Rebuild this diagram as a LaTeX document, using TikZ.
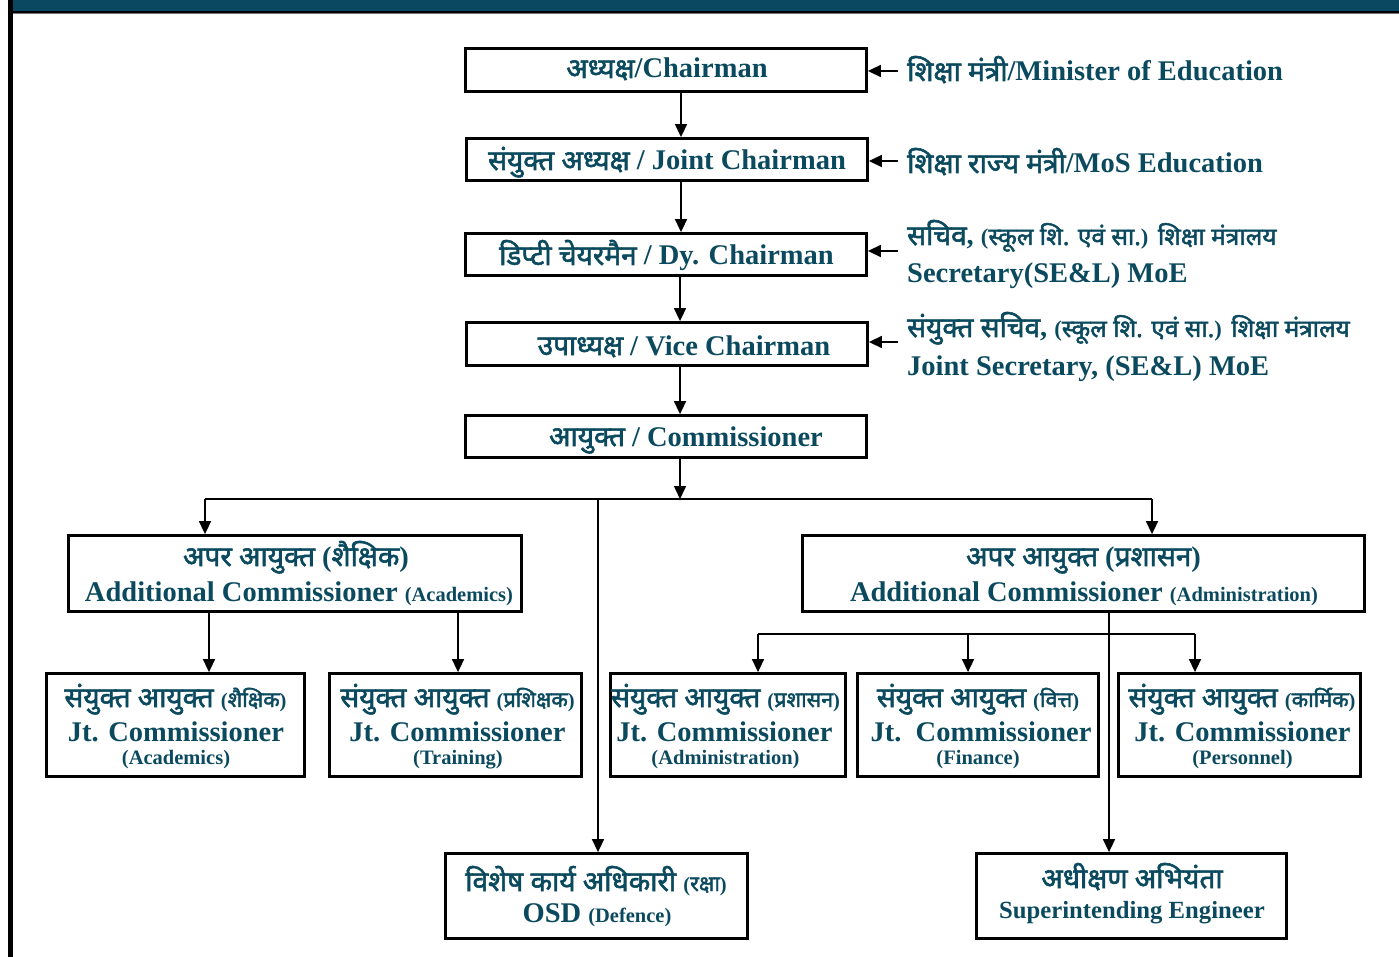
\documentclass[tikz,border=0pt]{standalone}
\usepackage{fontspec}
\setmainfont{Liberation Serif}
\newfontfamily\devfont[Script=Devanagari,FakeBold=2,BoldFont={*},BoldFeatures={FakeBold=2}]{Noto Sans}
\usetikzlibrary{arrows.meta,calc}
\definecolor{txt}{HTML}{0B4A5E}
\definecolor{band}{HTML}{0A4760}
\newcommand\fsL{\fontsize{28.5}{30}\selectfont}
\newcommand\fsS{\fontsize{20.5}{22}\selectfont}
\newcommand\fsM{\fontsize{24.7}{26}\selectfont}
\newcommand\fsT{\fontsize{22.5}{24}\selectfont}
\newcommand\DVL[1]{{\devfont\fontsize{28}{29}\selectfont #1}}
\newcommand\DVS[1]{{\devfont\fontsize{21.5}{22}\selectfont #1}}
\newcommand\DVT[1]{{\devfont\fontsize{24.5}{25}\selectfont #1}}
\tikzset{
  box/.style={draw=black, line width=2.8pt, inner sep=0pt},
  conn/.style={line width=1.6pt, draw=black},
  arr/.style={conn, -{Triangle[width=12pt,length=13pt]}},
  lbl/.style={text=txt, inner sep=0pt, anchor=base, font=\fsL\bfseries},
  lblw/.style={lbl, anchor=base west},
}
\begin{document}
\begin{tikzpicture}[x=1pt,y=-1pt]
\useasboundingbox (0,0) rectangle (1399,957);
% frame
\fill[band] (8,0) rectangle (1399,11.5);
\fill[black] (8,11) rectangle (1399,13.5);
\fill[black!55] (13,13.5) rectangle (1399,14.5);
\fill[black] (8,0) rectangle (13,957);

% boxes
\node[box, minimum width=401, minimum height=43] (chair) at (666,70) {};
\node[box, minimum width=401, minimum height=42] (joint) at (667,159.5) {};
\node[box, minimum width=401, minimum height=42] (dy) at (666,254.5) {};
\node[box, minimum width=401, minimum height=43] (vice) at (667,344) {};
\node[box, minimum width=401, minimum height=42] (comm) at (666,436.5) {};
\node[box, minimum width=453, minimum height=76] (acacad) at (295,573.5) {};
\node[box, minimum width=562, minimum height=76] (acadmin) at (1083.5,573.5) {};
\node[box, minimum width=258, minimum height=103] (jcacad) at (175.5,725) {};
\node[box, minimum width=252, minimum height=103] (jctrain) at (455.5,725) {};
\node[box, minimum width=235, minimum height=103] (jcadmin) at (728,725) {};
\node[box, minimum width=241, minimum height=103] (jcfin) at (978,725) {};
\node[box, minimum width=242, minimum height=103] (jcpers) at (1239.5,725) {};
\node[box, minimum width=302, minimum height=85] (osd) at (596.5,896) {};
\node[box, minimum width=310, minimum height=85] (se) at (1131.5,896) {};

% texts
\node[lbl] (tchair) at (667,78) {\DVL{अध्यक्ष}/Chairman};
\node[lbl] (tjoint) at (667,170) {\DVL{संयुक्त अध्यक्ष} / Joint Chairman};
\node[lbl] (tdy) at (666.5,265) {\DVL{डिप्टी चेयरमैन} / Dy. Chairman};
\node[lbl] (tvice) at (684,355) {\DVL{उपाध्यक्ष} / Vice Chairman};
\node[lbl] (tcomm) at (686,446) {\DVL{आयुक्त} / Commissioner};

\node[lblw] (tmin) at (907,81) {\DVL{शिक्षा मंत्री}/Minister of Education};
\node[lblw] (tmos) at (907,173) {\DVL{शिक्षा राज्य मंत्री}/MoS Education};
\node[lblw] (tsec1) at (907,245) {\DVL{सचिव}, {\fsT(\DVT{स्कूल शि. एवं सा.})} \DVT{शिक्षा मंत्रालय}};
\node[lblw] (tsec2) at (907,283) {Secretary(SE\&L) MoE};
\node[lblw] (tjs1) at (907,337) {\DVL{संयुक्त सचिव}, {\fsT(\DVT{स्कूल शि. एवं सा.})} \DVT{शिक्षा मंत्रालय}};
\node[lblw] (tjs2) at (907,375) {Joint Secretary, (SE\&L) MoE};

\node[lbl] (taca1) at (296,566) {\DVL{अपर आयुक्त} (\DVL{शैक्षिक})};
\node[lbl] (taca2) at (299,601) {Additional Commissioner {\fsS (Academics)}};
\node[lbl] (tadm1) at (1083.5,566) {\DVL{अपर आयुक्त} (\DVL{प्रशासन})};
\node[lbl] (tadm2) at (1084,601) {Additional Commissioner {\fsS (Administration)}};

\node[lbl] (tjca1) at (175.5,707) {\DVL{संयुक्त आयुक्त} {\fsS(\DVS{शैक्षिक})}};
\node[lbl] (tjca2) at (176,741) {Jt. Commissioner};
\node[lbl] (tjca3) at (176,764) {\fsS (Academics)};
\node[lbl] (tjct1) at (457.5,707) {\DVL{संयुक्त आयुक्त} {\fsS(\DVS{प्रशिक्षक})}};
\node[lbl] (tjct2) at (457.5,741) {Jt. Commissioner};
\node[lbl] (tjct3) at (458,764) {\fsS (Training)};
\node[lbl] (tjcd1) at (725.5,707) {\DVL{संयुक्त आयुक्त} {\fsS(\DVS{प्रशासन})}};
\node[lbl] (tjcd2) at (724.5,741) {Jt. Commissioner};
\node[lbl] (tjcd3) at (725.5,764) {\fsS (Administration)};
\node[lbl] (tjcf1) at (978,707) {\DVL{संयुक्त आयुक्त} {\fsS(\DVS{वित्त})}};
\node[lbl] (tjcf2) at (981,741) {Jt.\ \ Commissioner};
\node[lbl] (tjcf3) at (978,764) {\fsS (Finance)};
\node[lbl] (tjcp1) at (1242,707) {\DVL{संयुक्त आयुक्त} {\fsS(\DVS{कार्मिक})}};
\node[lbl] (tjcp2) at (1242.5,741) {Jt. Commissioner};
\node[lbl] (tjcp3) at (1242.5,764) {\fsS (Personnel)};

\node[lbl] (tosd1) at (596,891) {\DVL{विशेष कार्य अधिकारी} {\fsS(\DVS{रक्षा})}};
\node[lbl] (tosd2) at (597,922) {OSD {\fsS (Defence)}};
\node[lbl] (tse1) at (1132,888) {\DVL{अधीक्षण अभियंता}};
\node[lbl, font=\fsM\bfseries] (tse2) at (1132,918) {Superintending Engineer};

% vertical chain
\coordinate (x1) at (681,0);
\coordinate (x2) at (680,0);
\draw[arr] (chair.south -| x1) -- (joint.north -| x1);
\draw[arr] (joint.south -| x1) -- (dy.north -| x1);
\draw[arr] (dy.south -| x2) -- (vice.north -| x2);
\draw[arr] (vice.south -| x2) -- (comm.north -| x2);
\coordinate (j0) at (680,499);
\coordinate (jl) at (205,499);
\coordinate (jr) at (1152,499);
\coordinate (jo) at (598,499);
\draw[conn] (jl) -- (jr);
\draw[arr] (comm.south -| j0) -- (j0);
\draw[arr] (jl) -- (acacad.north -| jl);
\draw[arr] (jr) -- (acadmin.north -| jr);
\draw[arr] (jo) -- (osd.north -| jo);

% academics branch
\coordinate (xa1) at (209,0);
\coordinate (xa2) at (458,0);
\draw[arr] (acacad.south -| xa1) -- (jcacad.north -| xa1);
\draw[arr] (acacad.south -| xa2) -- (jctrain.north -| xa2);

% administration branch
\coordinate (xs) at (1109,0);
\draw[arr] (acadmin.south -| xs) -- (se.north -| xs);
\coordinate (bl) at (758,634);
\coordinate (bm) at (968,634);
\coordinate (br) at (1195,634);
\draw[conn] (bl) -- (br);
\draw[arr] (bl) -- (jcadmin.north -| bl);
\draw[arr] (bm) -- (jcfin.north -| bm);
\draw[arr] (br) -- (jcpers.north -| br);

% side arrows
\coordinate (s1) at (898,71);
\coordinate (s2) at (898,161);
\coordinate (s3) at (898,251);
\coordinate (s4) at (898,342);
\draw[arr] (s1) -- (chair.east |- s1);
\draw[arr] (s2) -- (joint.east |- s2);
\draw[arr] (s3) -- (dy.east |- s3);
\draw[arr] (s4) -- (vice.east |- s4);
\end{tikzpicture}
\end{document}
